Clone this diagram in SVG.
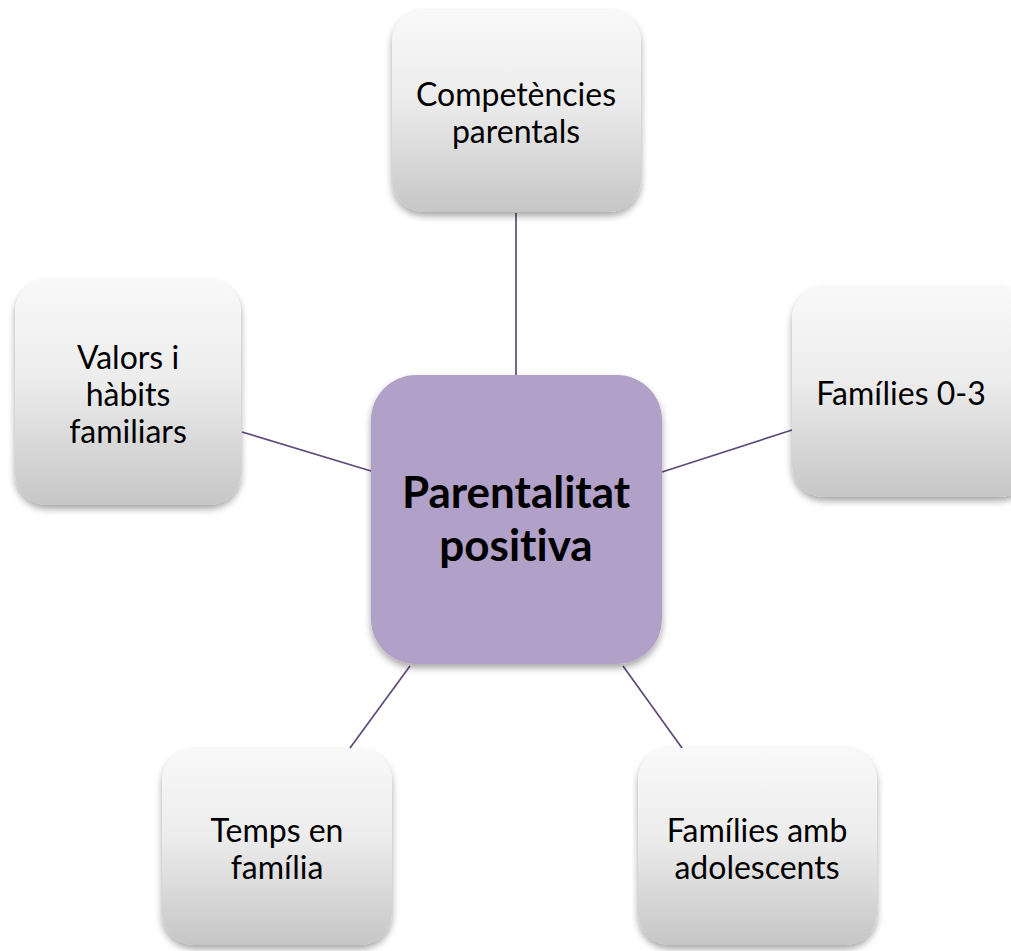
<svg xmlns="http://www.w3.org/2000/svg" width="1011" height="951" viewBox="0 0 1011 951">
<defs>
<linearGradient id="gr" x1="0" y1="0" x2="0" y2="1">
<stop offset="0" stop-color="#f9f9f9"/>
<stop offset="0.45" stop-color="#ececec"/>
<stop offset="1" stop-color="#c6c6c6"/>
</linearGradient>
<filter id="sh" x="-10%" y="-10%" width="120%" height="125%">
<feDropShadow dx="0" dy="4" stdDeviation="3.5" flood-color="#000" flood-opacity="0.35"/>
</filter>
</defs>
<style>
.n{fill:url(#gr);filter:url(#sh)}
.c{fill:#b1a0c7;filter:url(#sh)}
.t{font-family:Lato,"Open Sans",sans-serif;font-size:32px;fill:#000;text-anchor:middle;font-variant-ligatures:none}
.b{font-family:Lato,"Open Sans",sans-serif;font-size:44px;font-weight:bold;fill:#000;text-anchor:middle;font-variant-ligatures:none}
.l{stroke:#5f497a;stroke-width:1.7;fill:none}
</style>
<rect width="1011" height="951" fill="#fff"/>
<g id="connectors">
<line class="l" x1="516" y1="213" x2="516" y2="375"/>
<line class="l" x1="242" y1="432" x2="371" y2="471"/>
<line class="l" x1="662" y1="472" x2="792" y2="430"/>
<line class="l" x1="410" y1="666" x2="350" y2="748"/>
<line class="l" x1="623" y1="666" x2="682" y2="748"/>
</g>
<g id="top">
<rect class="n" x="392" y="10" width="249" height="202" rx="32"/>
<text class="t" x="516" y="106">Competències</text>
<text class="t" x="516" y="143">parentals</text>
</g>
<g id="left">
<rect class="n" x="15" y="280" width="226" height="225" rx="32"/>
<text class="t" x="128" y="369">Valors i</text>
<text class="t" x="128" y="406">hàbits</text>
<text class="t" x="128" y="443">familiars</text>
</g>
<g id="right">
<rect class="n" x="792" y="287" width="240" height="210" rx="32"/>
<text class="t" x="901" y="405">Famílies 0-3</text>
</g>
<g id="bottomleft">
<rect class="n" x="162" y="749" width="230" height="196" rx="32"/>
<text class="t" x="277" y="842">Temps en</text>
<text class="t" x="277" y="879">família</text>
</g>
<g id="bottomright">
<rect class="n" x="638" y="748" width="239" height="197" rx="32"/>
<text class="t" x="757" y="842">Famílies amb</text>
<text class="t" x="757" y="879">adolescents</text>
</g>
<g id="center">
<rect class="c" x="371" y="375" width="291" height="289" rx="45"/>
<text class="b" x="516" y="508">Parentalitat</text>
<text class="b" x="516" y="561">positiva</text>
</g>
</svg>
